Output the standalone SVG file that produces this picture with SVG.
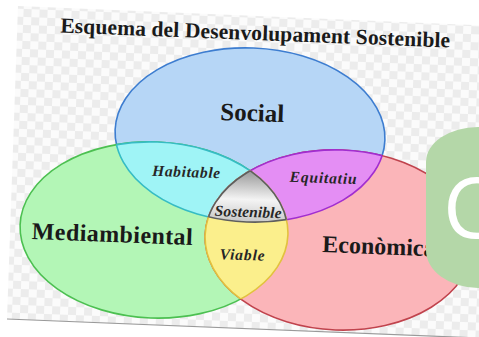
<svg xmlns="http://www.w3.org/2000/svg" xmlns:xlink="http://www.w3.org/1999/xlink" width="479" height="337" viewBox="0 0 479 337">
<style>
.lbl{font-family:"Liberation Serif","DejaVu Serif",serif;font-weight:bold;fill:#1a1a1a}
.big{font-size:24px}
.it{font-style:italic;font-size:15.5px;fill:#262626;text-anchor:middle}
.fS{fill:#b6d6f6;stroke:#3d7dd0;stroke-width:1.6}
.fM{fill:#b3f6b6;stroke:#4cc051;stroke-width:1.6}
.fE{fill:#fbb5b9;stroke:#c0434d;stroke-width:1.6}
.nf{fill:none;stroke-width:1.6}
</style>
<defs>
<pattern id="chk" width="16" height="16" patternUnits="userSpaceOnUse" patternTransform="rotate(2.2)">
<rect width="16" height="16" fill="#fbfbfb"/>
<rect width="8" height="8" fill="#ececec"/>
<rect x="8" y="8" width="8" height="8" fill="#ececec"/>
</pattern>
<linearGradient id="gG" gradientUnits="userSpaceOnUse" x1="0" y1="168" x2="0" y2="224">
<stop offset="0" stop-color="#9a9a9a"/>
<stop offset="0.5" stop-color="#f4f4f4"/>
<stop offset="1" stop-color="#bdbdbd"/>
</linearGradient>
<ellipse id="eS" cx="250" cy="135" rx="135" ry="87" transform="rotate(2.2 250 135)"/>
<ellipse id="eM" cx="154" cy="230" rx="134" ry="88" transform="rotate(2.2 154 230)"/>
<ellipse id="eE" cx="339" cy="240" rx="134" ry="90" transform="rotate(2.2 339 240)"/>
<clipPath id="cS"><use xlink:href="#eS"/></clipPath>
<clipPath id="cM"><use xlink:href="#eM"/></clipPath>
<clipPath id="cE"><use xlink:href="#eE"/></clipPath>
</defs>
<rect width="479" height="337" fill="#ffffff"/>
<g id="background">
<polygon points="18,6 520,27 500,339 7,319" fill="url(#chk)"/>
<line x1="7" y1="319" x2="479" y2="338" stroke="#9a9a9a" stroke-width="1.2"/>
</g>
<text id="title" class="lbl" x="255" y="40" font-size="21.5" text-anchor="middle" textLength="390" transform="rotate(2.2 255 40)">Esquema del Desenvolupament Sostenible</text>
<g id="social"><use xlink:href="#eS" class="fS"/></g>
<g id="mediambiental"><use xlink:href="#eM" class="fM"/></g>
<g id="economica"><use xlink:href="#eE" class="fE"/></g>
<g id="habitable">
<use xlink:href="#eM" fill="#9ff4f6" clip-path="url(#cS)"/>
<use xlink:href="#eS" class="nf" stroke="#36bcc4" clip-path="url(#cM)"/>
<use xlink:href="#eM" class="nf" stroke="#36bcc4" clip-path="url(#cS)"/>
</g>
<g id="equitatiu">
<use xlink:href="#eE" fill="#e48ef4" clip-path="url(#cS)"/>
<use xlink:href="#eS" class="nf" stroke="#a12ed0" clip-path="url(#cE)"/>
<use xlink:href="#eE" class="nf" stroke="#a12ed0" clip-path="url(#cS)"/>
</g>
<g id="viable">
<use xlink:href="#eE" fill="#fbef8c" clip-path="url(#cM)"/>
<use xlink:href="#eM" class="nf" stroke="#e2c23e" clip-path="url(#cE)"/>
<use xlink:href="#eE" class="nf" stroke="#e2c23e" clip-path="url(#cM)"/>
</g>
<g id="sostenible">
<g clip-path="url(#cS)"><use xlink:href="#eM" fill="url(#gG)" clip-path="url(#cE)"/></g>
<g clip-path="url(#cM)"><use xlink:href="#eS" class="nf" stroke="#5e5e5e" clip-path="url(#cE)"/></g>
<g clip-path="url(#cS)"><use xlink:href="#eM" class="nf" stroke="#5e5e5e" clip-path="url(#cE)"/></g>
<g clip-path="url(#cS)"><use xlink:href="#eE" class="nf" stroke="#5e5e5e" clip-path="url(#cM)"/></g>
</g>
<g id="labels">
<text class="lbl" x="252" y="121" font-size="25" text-anchor="middle" transform="rotate(2 252 121)">Social</text>
<text class="lbl big" x="112" y="242" text-anchor="middle" textLength="161" transform="rotate(2.2 112 242)">Mediambiental</text>
<text class="lbl big" x="322" y="252" transform="rotate(2.2 322 252)">Econòmica</text>
<text class="lbl it" x="186" y="177" textLength="68" transform="rotate(2 186 177)">Habitable</text>
<text class="lbl it" x="323" y="183" textLength="67" transform="rotate(2 323 183)">Equitatiu</text>
<text class="lbl it" x="248" y="217" textLength="67" transform="rotate(2 248 217)">Sostenible</text>
<text class="lbl it" x="242" y="260" textLength="45" transform="rotate(2 242 260)">Viable</text>
</g>
<g id="overlay">
<path d="M490,127 L478,127 A52,35 0 0 0 426,162 L426,250 A52,38 0 0 0 478,288 L490,288 Z" fill="#b4d7a8"/>
<text x="443" y="238" font-family="'Open Sans','Liberation Sans',sans-serif" font-size="84" fill="#ffffff">C</text>
</g>
</svg>
